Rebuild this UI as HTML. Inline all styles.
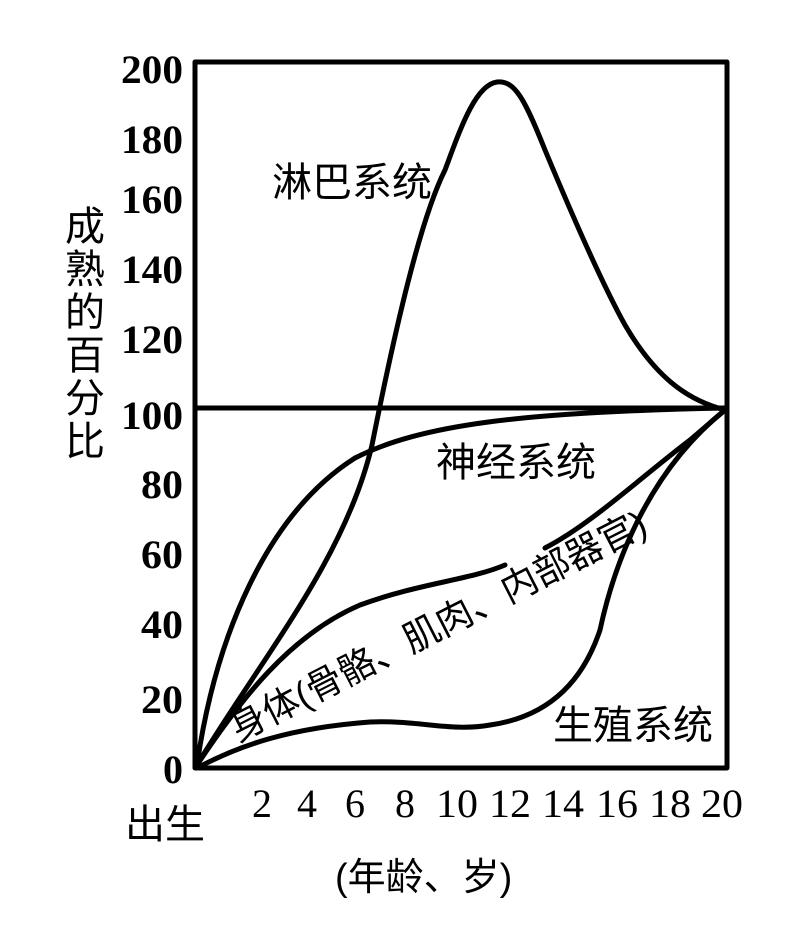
<!DOCTYPE html>
<html><head><meta charset="utf-8"><style>
body{margin:0;background:#fff;}
svg text{font-family:"Liberation Serif","Noto Serif CJK SC",serif;fill:#000;}
.c{font-family:"Liberation Sans","Noto Sans CJK SC",sans-serif !important;}
</style></head><body>
<svg width="806" height="922" viewBox="0 0 806 922" xmlns="http://www.w3.org/2000/svg">
<g fill="none" stroke="#000" stroke-linecap="round" stroke-linejoin="round">
<rect x="195" y="62" width="532" height="706" stroke-width="5"/>
<line x1="195" y1="408" x2="727" y2="408" stroke-width="5"/>
<path d="M197,765 C260,660 345,560 372,445 C395,330 420,220 445,170 C460,130 475,85 497,82 C515,80 525,100 545,150 C570,210 600,280 625,325 C660,385 695,402 725,410" stroke-width="5"/>
<path d="M197,765 C215,640 265,515 355,458 C420,425 520,412 725,408" stroke-width="5"/>
<path d="M197,765 C240,700 290,635 360,605 C420,583 470,580 505,565 M545,548 C590,525 640,478 690,440 L725,410" stroke-width="5"/>
<path d="M197,768 C240,745 290,728 370,722 C420,720 450,732 490,725 C540,718 580,690 600,630 C615,560 650,470 725,410" stroke-width="5"/>
</g>
<g font-size="40" font-weight="bold" text-anchor="end">
<text x="183" y="83" textLength="62" lengthAdjust="spacingAndGlyphs">200</text><text x="183" y="153" textLength="62" lengthAdjust="spacingAndGlyphs">180</text><text x="183" y="213" textLength="62" lengthAdjust="spacingAndGlyphs">160</text>
<text x="183" y="283" textLength="62" lengthAdjust="spacingAndGlyphs">140</text><text x="183" y="353" textLength="62" lengthAdjust="spacingAndGlyphs">120</text><text x="183" y="429" textLength="62" lengthAdjust="spacingAndGlyphs">100</text>
<text x="183" y="498" textLength="42" lengthAdjust="spacingAndGlyphs">80</text><text x="183" y="568" textLength="42" lengthAdjust="spacingAndGlyphs">60</text><text x="183" y="638" textLength="42" lengthAdjust="spacingAndGlyphs">40</text>
<text x="183" y="713" textLength="42" lengthAdjust="spacingAndGlyphs">20</text><text x="183" y="783">0</text>
</g>
<g font-size="40" text-anchor="middle">
<text x="262" y="817">2</text><text x="307" y="817">4</text><text x="355" y="817">6</text>
<text x="405" y="817">8</text><text x="457" y="817" textLength="42" lengthAdjust="spacingAndGlyphs">10</text><text x="510" y="817" textLength="42" lengthAdjust="spacingAndGlyphs">12</text>
<text x="563" y="817" textLength="42" lengthAdjust="spacingAndGlyphs">14</text><text x="617" y="817" textLength="42" lengthAdjust="spacingAndGlyphs">16</text><text x="670" y="817" textLength="42" lengthAdjust="spacingAndGlyphs">18</text>
<text x="722" y="817" textLength="42" lengthAdjust="spacingAndGlyphs">20</text>
</g>
<g class="c" font-size="40">
<text class="c" x="125" y="838">出生</text>
<text class="c" x="272" y="196">淋巴系统</text>
<text class="c" x="436" y="476">神经系统</text>
<text class="c" x="553" y="739">生殖系统</text>
<text class="c" x="335" y="890" font-size="38">(年龄、岁)</text>
<text class="c" font-size="37" transform="translate(238,742) rotate(-27)" textLength="462" lengthAdjust="spacingAndGlyphs">身体(骨骼、肌肉、内部器官)</text>
</g>
<g class="c" font-size="40" text-anchor="middle">
<text class="c" x="85" y="240">成</text><text class="c" x="85" y="283">熟</text>
<text class="c" x="85" y="326">的</text><text class="c" x="85" y="369">百</text>
<text class="c" x="85" y="412">分</text><text class="c" x="85" y="455">比</text>
</g>
</svg>
</body></html>
